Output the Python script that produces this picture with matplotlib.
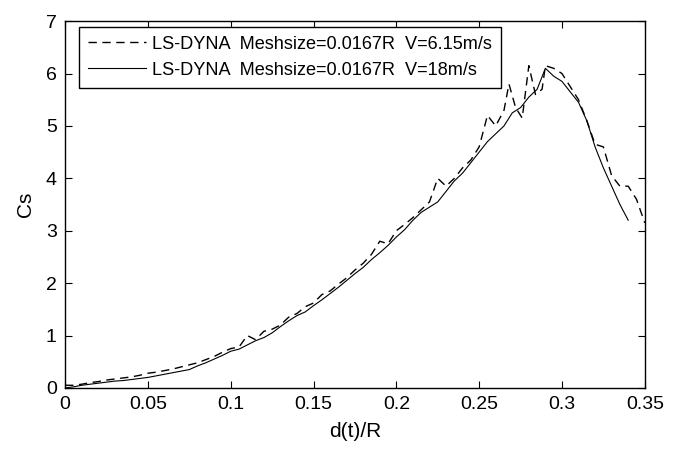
import matplotlib
matplotlib.use('Agg')
import matplotlib.pyplot as plt
import numpy as np

plt.rcParams['font.family'] = ['Liberation Sans', 'DejaVu Sans']

# V = 18 m/s (solid)
x_fast = [0, .005, .01, .015, .02, .025, .03, .035, .04, .045, .05, .055, .06, .065,
          .07, .075, .08, .085, .09, .095, .1, .105, .11, .115, .12, .125, .13, .135,
          .14, .145, .15, .155, .16, .165, .17, .175, .18, .185, .19, .195, .2, .205,
          .21, .215, .22, .225, .23, .235, .24, .245, .25, .255, .26, .265, .27, .275,
          .28, .285, .29, .295, .3, .305, .31, .315, .32, .325, .33, .335, .34]
cs_fast = [0.0, 0.02, 0.05, 0.07, 0.09, 0.11, 0.13, 0.14, 0.16, 0.18, 0.2, 0.23, 0.26, 0.29,
           0.32, 0.35, 0.42, 0.48, 0.55, 0.62, 0.7, 0.74, 0.82, 0.9, 0.96, 1.05, 1.17, 1.28,
           1.38, 1.45, 1.57, 1.68, 1.8, 1.92, 2.05, 2.18, 2.3, 2.45, 2.58, 2.72, 2.88, 3.02,
           3.2, 3.35, 3.45, 3.55, 3.75, 3.95, 4.1, 4.3, 4.5, 4.7, 4.85, 5.0, 5.25, 5.35,
           5.55, 5.7, 6.1, 5.95, 5.85, 5.65, 5.45, 5.1, 4.6, 4.2, 3.85, 3.5, 3.2]

# V = 6.15 m/s (dashed)
x_slow = [0, .005, .01, .015, .02, .025, .03, .035, .04, .045, .05, .055, .06, .065,
          .07, .075, .08, .085, .09, .095, .1, .105, .11, .115, .12, .125, .13, .135,
          .14, .145, .15, .155, .16, .165, .17, .175, .18, .185, .19, .195, .2, .205,
          .21, .215, .22, .225, .23, .235, .24, .245, .25, .255, .26, .265, .268, .272,
          .276, .28, .284, .288, .29, .295, .3, .305, .31, .315, .32, .325, .33, .335,
          .34, .345, .35]
cs_slow = [0.05, 0.05, 0.07, 0.1, 0.12, 0.15, 0.17, 0.19, 0.21, 0.24, 0.28, 0.3, 0.33, 0.36,
           0.4, 0.44, 0.48, 0.54, 0.6, 0.68, 0.75, 0.78, 1.0, 0.92, 1.08, 1.12, 1.2, 1.35,
           1.42, 1.55, 1.62, 1.78, 1.85, 1.98, 2.1, 2.25, 2.38, 2.55, 2.8, 2.75, 3.0, 3.12,
           3.25, 3.4, 3.55, 4.0, 3.85, 4.0, 4.2, 4.35, 4.6, 5.2, 5.0, 5.3, 5.8, 5.35,
           5.15, 6.15, 5.6, 5.7, 6.15, 6.1, 6.0, 5.75, 5.5, 5.1, 4.65, 4.6, 4.05, 3.85,
           3.85, 3.6, 3.15]

x_ticks = [0, 0.05, 0.1, 0.15, 0.2, 0.25, 0.3, 0.35]
x_labels = ['0', '0.05', '0.1', '0.15', '0.2', '0.25', '0.3', '0.35']
y_ticks = [0, 1, 2, 3, 4, 5, 6, 7]

fig = plt.figure(figsize=(6.78, 4.5), dpi=100)
ax = fig.add_axes([0.096, 0.138, 0.855, 0.815])

ax.plot(x_slow, cs_slow, color='black', lw=1.0, linestyle=(0, (6, 4)),
        label='LS-DYNA  Meshsize=0.0167R  V=6.15m/s')
ax.plot(x_fast, cs_fast, color='black', lw=0.8,
        label='LS-DYNA  Meshsize=0.0167R  V=18m/s')

ax.set_xlim(0, 0.35)
ax.set_ylim(0, 7)
ax.set_xticks(x_ticks)
ax.set_xticklabels(x_labels)
ax.set_yticks(y_ticks)
ax.tick_params(direction='in', top=True, right=True, length=5, labelsize=14, pad=6)
for s in ax.spines.values():
    s.set_linewidth(1.0)

ax.set_xlabel('d(t)/R', fontsize=15, labelpad=6)
ax.set_ylabel('Cs', fontsize=15, labelpad=8)

leg = ax.legend(loc='upper left', bbox_to_anchor=(0.024, 0.985), fontsize=13.1,
                frameon=True, fancybox=False, edgecolor='black', framealpha=1,
                handlelength=3.2, handletextpad=0.3, borderpad=0.5, labelspacing=0.5,
                borderaxespad=0)
leg.get_frame().set_linewidth(1.0)

fig.savefig('out.png', dpi=100)
